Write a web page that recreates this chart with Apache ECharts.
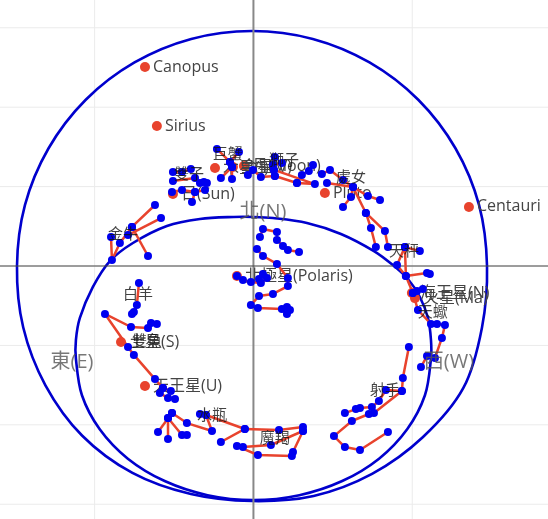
<!DOCTYPE html>
<html><head><meta charset="utf-8">
<script src="https://cdn.jsdelivr.net/npm/echarts@6/dist/echarts.min.js"></script>
<style>html,body{margin:0;padding:0;background:#fff}#chart{width:548px;height:519px}</style>
</head><body><div id="chart"></div>
<script>
// ---- axis / grid ----
const xGrid = [-1, 0, 1];
const yGrid = [-1.5, -1, -0.5, 0, 0.5, 1, 1.5];
const xRange = [-1.596, 1.855];
const yRange = [-1.593, 1.675];

// ---- reference curves (closed loops) ----
const outerCurve = [[-0.009,1.480],[0.374,1.430],[0.731,1.282],[1.038,1.047],[1.273,0.740],[1.421,0.383],[1.471,0],[1.439,-0.388],[1.322,-0.768],[1.068,-1.077],[0.747,-1.309],[0.379,-1.448],[-0.009,-1.480],[-0.394,-1.436],[-0.762,-1.303],[-1.078,-1.069],[-1.310,-0.751],[-1.450,-0.386],[-1.489,0],[-1.439,0.383],[-1.291,0.740],[-1.056,1.047],[-0.749,1.282],[-0.392,1.430]];
const horizonCurve = [[0,0.309],[0.123,0.302],[0.337,0.271],[0.551,0.202],[0.759,0.094],[0.878,0.006],[0.973,-0.082],[1.048,-0.195],[1.099,-0.327],[1.118,-0.466],[1.118,-0.583],[1.080,-0.814],[0.968,-1.028],[0.791,-1.213],[0.559,-1.354],[0.289,-1.443],[0,-1.474],[-0.289,-1.443],[-0.559,-1.354],[-0.791,-1.213],[-0.968,-1.028],[-1.080,-0.814],[-1.118,-0.583],[-1.118,-0.466],[-1.093,-0.327],[-1.011,-0.132],[-0.904,0.031],[-0.759,0.145],[-0.545,0.252],[-0.337,0.296],[-0.123,0.309]];

// ---- constellations (paths of stars) ----
const taurus = [
 [[-0.620,0.384],[-0.765,0.246],[-0.841,0.145],[-0.891,0.038],[-0.897,0.183]],
 [[-0.582,0.302],[-0.790,0.195]],
 [[-0.765,0.246],[-0.664,0.063]]
];
const gemini = [
 [[-0.507,0.592],[-0.450,0.592],[-0.394,0.611]],
 [[-0.507,0.535],[-0.368,0.554],[-0.337,0.523],[-0.312,0.529],[-0.293,0.523]],
 [[-0.513,0.466],[-0.450,0.479],[-0.368,0.466],[-0.305,0.479]],
 [[-0.368,0.466],[-0.387,0.403]]
];
const cancer = [
 [[-0.230,0.737],[-0.148,0.655],[-0.135,0.623],[-0.135,0.548]],
 [[-0.091,0.718],[-0.148,0.655]],
 [[-0.135,0.623],[-0.205,0.554]]
];
const leo = [
 [[-0.035,0.573],[-0.003,0.605],[0.047,0.560],[0.135,0.567],[0.129,0.605],[0.123,0.636],[0.135,0.686]],
 [[0.123,0.636],[0.179,0.649]],
 [[0.129,0.605],[0.387,0.516],[0.274,0.523],[0.135,0.567]],
 [[0.274,0.523],[0.305,0.573],[0.349,0.598],[0.375,0.636]]
];
const virgo = [
 [[0.431,0.579],[0.482,0.605],[0.564,0.542],[0.627,0.497],[0.721,0.441],[0.797,0.416]],
 [[0.463,0.523],[0.627,0.497],[0.614,0.435],[0.564,0.372]],
 [[0.627,0.497],[0.708,0.334],[0.740,0.239],[0.771,0.120]],
 [[0.708,0.334],[0.828,0.220],[0.847,0.120]]
];
const libra = [
 [[1.048,0.094],[0.954,0.120],[0.904,0.006],[0.960,-0.063],[1.093,-0.044],[1.111,-0.050]],
 [[0.954,0.120],[0.960,-0.063],[1.004,-0.170]]
];
const scorpius = [
 [[1.067,-0.145],[1.030,-0.157],[1.004,-0.170],[1.036,-0.277],[1.118,-0.365],[1.156,-0.365],[1.206,-0.372],[1.187,-0.453],[1.143,-0.579],[1.093,-0.567],[1.055,-0.636]]
];
const sagittarius = [
 [[0.979,-0.510],[0.941,-0.705],[0.935,-0.787],[0.759,-0.926],[0.727,-0.932],[0.620,-0.976],[0.507,-1.071],[0.576,-1.140],[0.671,-1.159],[0.847,-1.045]],
 [[0.935,-0.787],[0.834,-0.781],[0.790,-0.850],[0.746,-0.888],[0.671,-0.894],[0.645,-0.901],[0.576,-0.926]]
];
const capricornus = [
 [[-0.054,-1.026],[0.161,-1.033],[0.312,-1.014],[0.312,-1.039],[0.249,-1.171],[0.242,-1.196],[0.028,-1.190],[-0.104,-1.134],[-0.066,-1.140],[0.110,-1.127],[0.312,-1.039]]
];
const aquarius = [
 [[-0.513,-0.926],[-0.601,-1.045]],
 [[-0.538,-0.957],[-0.538,-1.089]],
 [[-0.538,-0.957],[-0.450,-1.064],[-0.419,-1.064]],
 [[-0.513,-0.926],[-0.419,-0.989],[-0.261,-1.039],[-0.299,-0.938],[-0.337,-0.932]],
 [[-0.299,-0.938],[-0.054,-1.026],[-0.205,-1.108]]
];
const pisces = [
 [[-0.608,-0.365],[-0.645,-0.359],[-0.664,-0.390],[-0.771,-0.384],[-0.935,-0.302],[-0.790,-0.510],[-0.753,-0.560],[-0.620,-0.712],[-0.570,-0.768],[-0.520,-0.787]],
 [[-0.570,-0.768],[-0.589,-0.800],[-0.538,-0.831],[-0.494,-0.838]]
];
const aries = [
 [[-0.721,-0.107],[-0.734,-0.246],[-0.753,-0.290],[-0.765,-0.302]]
];
const ursaMinor = [
 [[0.041,0.183],[0.060,0.233],[0.148,0.214],[0.148,0.164],[0.186,0.126],[0.217,0.101],[0.287,0.088]]
];
const draco = [
 [[0.022,0.107],[0.060,0.063],[0.148,0.013],[0.217,-0.076],[0.217,-0.126],[0.123,-0.176],[0.035,-0.189],[-0.016,-0.246],[0.028,-0.264],[0.179,-0.271],[0.211,-0.258],[0.230,-0.277],[0.211,-0.302]]
];
const poleGroup = [
 [[-0.104,-0.063],[-0.066,-0.088],[-0.016,-0.101],[0.047,-0.107],[0.085,-0.076],[0.060,-0.050],[0.035,-0.082]]
];

// ---- constellation labels ----
const constNames = ['金牛','雙子','巨蟹','獅子','處女','天秤','天蠍','射手','魔羯','水瓶','雙魚','白羊'];
const constLabelX = [-0.822,-0.406,-0.161,0.192,0.614,0.948,1.130,0.828,0.135,-0.261,-0.671,-0.727];
const constLabelY = [0.195,0.573,0.699,0.661,0.554,0.088,-0.296,-0.787,-1.089,-0.945,-0.479,-0.183];

// ---- bright stars & planets ----
const bodyNames = ['Canopus','Sirius','Centauri','Pluto','日(Sun)','木星(J)','金星(V)','月(Moon)','北極星(Polaris)','海王星(N)','火星(Ma)','土星(S)','天王星(U)'];
const bodyX = [-0.683,-0.608,1.357,0.450,-0.507,-0.242,-0.129,-0.060,-0.104,0.998,1.017,-0.834,-0.683];
const bodyY = [1.253,0.882,0.372,0.460,0.453,0.617,0.623,0.630,-0.063,-0.170,-0.202,-0.479,-0.756];

// ---- directions ----
const dirNames = ['北(N)','東(E)','西(W)'];
const dirX = [0.060,-1.143,1.231];
const dirY = [0.340,-0.605,-0.605];

const FONT = "'Open Sans','Noto Sans CJK TC',sans-serif";
const RED = '#e8432d';
const BLUE = '#0000f0';
const CURVE = '#0000cd';
const constellations = [taurus, gemini, cancer, leo, virgo, libra, scorpius, sagittarius, capricornus, aquarius, pisces, aries, ursaMinor, draco, poleGroup];

function loopSeries(points, smooth) {
  return {
    type:'custom', z:1, silent:true, data:[[0,0]],
    renderItem: (params, api) => ({
      type:'polygon',
      shape:{points: points.map(p => api.coord(p)), smooth: smooth},
      style:{fill:'none', stroke:CURVE, lineWidth:2.6}
    })
  };
}

const series = [];
// grid lines
xGrid.forEach(v => series.push({type:'line', data:[[v,yRange[0]],[v,yRange[1]]], symbol:'none', silent:true, z:0, lineStyle:{color:'#ebebeb', width:1}}));
yGrid.forEach(v => series.push({type:'line', data:[[xRange[0],v],[xRange[1],v]], symbol:'none', silent:true, z:0, lineStyle:{color:'#ebebeb', width:1}}));
// zero lines
series.push({type:'line', data:[[0,yRange[0]],[0,yRange[1]]], symbol:'none', silent:true, z:1, lineStyle:{color:'#888', width:2}});
series.push({type:'line', data:[[xRange[0],0],[xRange[1],0]], symbol:'none', silent:true, z:1, lineStyle:{color:'#444', width:1}});
// curves
series.push(loopSeries(outerCurve, 0.33));
series.push(loopSeries(horizonCurve, 0.33));
// bodies
series.push({type:'scatter', z:2, symbolSize:10, itemStyle:{color:RED, opacity:1},
  data: bodyNames.map((n,i)=>({name:n, value:[bodyX[i], bodyY[i]]})),
  label:{show:true, position:'right', distance:3, formatter:'{b}', color:'#444', fontSize:16, fontFamily:FONT}});
// constellation lines
const starPts = [];
constellations.forEach(con => con.forEach(path => {
  series.push({type:'line', data:path, symbol:'none', silent:true, z:3, lineStyle:{color:RED, width:2.5}});
  path.forEach(p => starPts.push(p));
}));
// stars
series.push({type:'scatter', z:4, symbolSize:8, itemStyle:{color:BLUE, opacity:1}, data:starPts});
// constellation labels
series.push({type:'scatter', z:5, symbolSize:1, itemStyle:{color:'rgba(0,0,0,0)'},
  data: constNames.map((n,i)=>({name:n, value:[constLabelX[i], constLabelY[i]]})),
  label:{show:true, position:'inside', formatter:'{b}', color:'#111', fontSize:15, fontFamily:FONT}});
// direction labels
series.push({type:'scatter', z:5, symbolSize:1, itemStyle:{color:'rgba(0,0,0,0)'},
  data: dirNames.map((n,i)=>({name:n, value:[dirX[i], dirY[i]]})),
  label:{show:true, position:'inside', formatter:'{b}', color:'#555', fontSize:20, fontFamily:FONT}});

const chart = echarts.init(document.getElementById('chart'), null, {renderer:'canvas'});
chart.setOption({
  animation:false,
  backgroundColor:'#fff',
  textStyle:{fontFamily:FONT},
  grid:{left:0, right:0, top:0, bottom:0, containLabel:false},
  xAxis:{type:'value', min:xRange[0], max:xRange[1], splitLine:{show:false}, axisTick:{show:false}, axisLabel:{show:false}, axisLine:{show:false}},
  yAxis:{type:'value', min:yRange[0], max:yRange[1], splitLine:{show:false}, axisTick:{show:false}, axisLabel:{show:false}, axisLine:{show:false}},
  series: series
});
</script></body></html>
